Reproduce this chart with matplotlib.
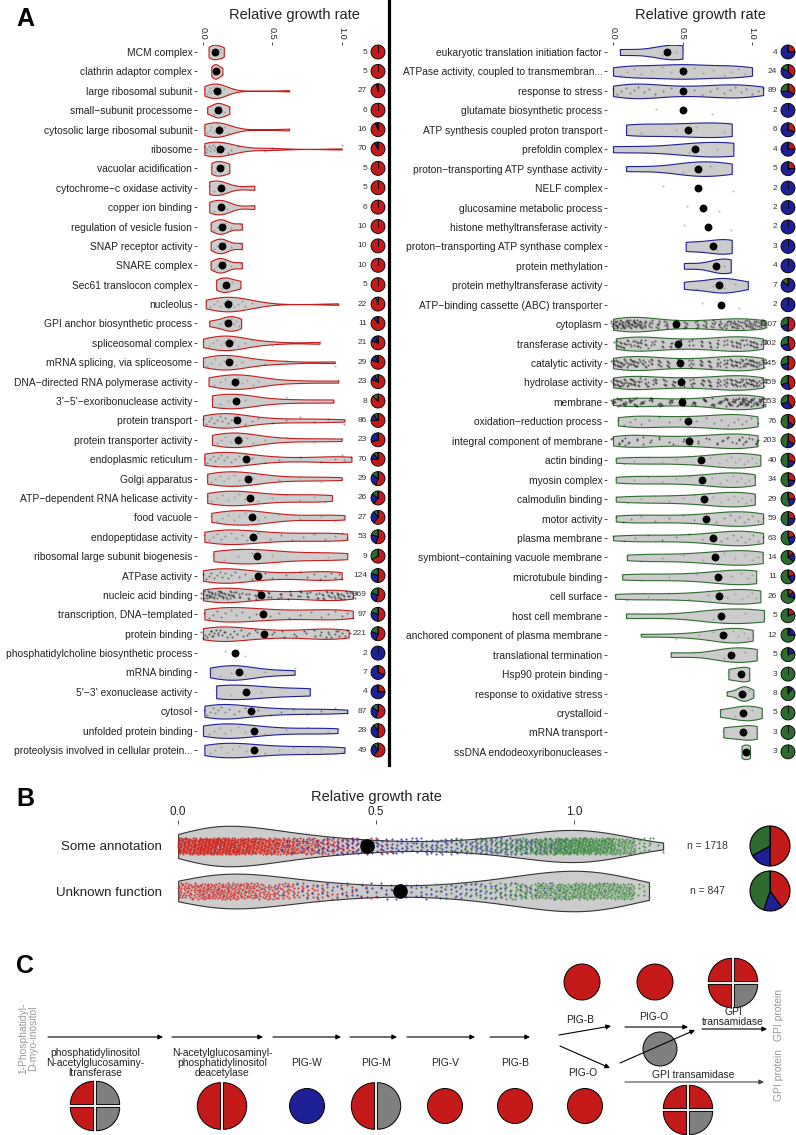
import numpy as np
import matplotlib
matplotlib.use('Agg')
import matplotlib.pyplot as plt
from matplotlib.patches import Wedge, Circle

plt.rcParams['font.family'] = ['Liberation Sans', 'DejaVu Sans']

RED = '#C41A1A'
BLUE = '#1F1F96'
GREEN = '#2E6B2E'
GREY = '#7F7F7F'
VFILL = '#CCCCCC'
TXT = '#222222'
CMAP = {'red': RED, 'blue': BLUE, 'green': GREEN, 'grey': GREY}

# ---------------- Panel A, left column ----------------
L_labels = ["MCM complex", "clathrin adaptor complex", "large ribosomal subunit",
            "small\u2212subunit processome", "cytosolic large ribosomal subunit", "ribosome",
            "vacuolar acidification", "cytochrome\u2212c oxidase activity", "copper ion binding",
            "regulation of vesicle fusion", "SNAP receptor activity", "SNARE complex",
            "Sec61 translocon complex", "nucleolus", "GPI anchor biosynthetic process",
            "spliceosomal complex", "mRNA splicing, via spliceosome",
            "DNA\u2212directed RNA polymerase activity", "3'\u22125'\u2212exoribonuclease activity",
            "protein transport", "protein transporter activity", "endoplasmic reticulum",
            "Golgi apparatus", "ATP\u2212dependent RNA helicase activity", "food vacuole",
            "endopeptidase activity", "ribosomal large subunit biogenesis", "ATPase activity",
            "nucleic acid binding", "transcription, DNA\u2212templated", "protein binding",
            "phosphatidylcholine biosynthetic process", "mRNA binding",
            "5'\u22123' exonuclease activity", "cytosol", "unfolded protein binding",
            "proteolysis involved in cellular protein..."]
L_n = [5, 5, 27, 6, 16, 70, 5, 5, 6, 10, 10, 10, 5, 22, 11, 21, 29, 23, 8, 86, 23, 70,
       29, 26, 27, 53, 9, 124, 369, 97, 221, 2, 7, 4, 87, 28, 49]
L_median = [0.087, 0.094, 0.10, 0.11, 0.115, 0.12, 0.12, 0.13, 0.13, 0.14, 0.14, 0.14,
            0.165, 0.178, 0.18, 0.185, 0.19, 0.233, 0.24, 0.243, 0.25, 0.307, 0.325, 0.339,
            0.355, 0.358, 0.387, 0.394, 0.416, 0.433, 0.44, 0.23, 0.26, 0.31, 0.344, 0.366, 0.37]
L_group = ['red'] * 31 + ['blue'] * 6
L_values = [
    [0.04, 0.07, 0.09, 0.12, 0.15],
    [0.06, 0.08, 0.094, 0.11, 0.14],
    [0.01, 0.03, 0.04, 0.05, 0.06, 0.07, 0.08, 0.09, 0.10, 0.10, 0.11, 0.12, 0.13, 0.15, 0.18, 0.62],
    [0.03, 0.08, 0.10, 0.12, 0.15, 0.19],
    [0.01, 0.03, 0.05, 0.06, 0.08, 0.10, 0.115, 0.13, 0.15, 0.18, 0.62],
    [0.01, 0.02, 0.03, 0.04, 0.05, 0.06, 0.07, 0.08, 0.09, 0.10, 0.11, 0.12, 0.13, 0.15, 0.18, 0.2, 0.25, 0.45, 0.5, 1.0],
    [0.06, 0.09, 0.12, 0.15, 0.19],
    [0.045, 0.08, 0.11, 0.13, 0.37],
    [0.045, 0.08, 0.12, 0.14, 0.17, 0.37],
    [0.055, 0.08, 0.10, 0.12, 0.13, 0.15, 0.16, 0.20, 0.27, 0.28],
    [0.055, 0.08, 0.10, 0.12, 0.13, 0.15, 0.16, 0.20, 0.27, 0.28],
    [0.055, 0.08, 0.10, 0.12, 0.13, 0.15, 0.16, 0.20, 0.27, 0.28],
    [0.095, 0.14, 0.165, 0.21, 0.27],
    [0.02, 0.05, 0.08, 0.10, 0.12, 0.15, 0.17, 0.18, 0.20, 0.22, 0.25, 0.28, 0.30, 0.35, 0.40, 0.975],
    [0.045, 0.08, 0.12, 0.15, 0.17, 0.18, 0.20, 0.22, 0.24, 0.26, 0.275],
    [0.0, 0.04, 0.07, 0.10, 0.13, 0.15, 0.18, 0.19, 0.22, 0.25, 0.30, 0.35, 0.50, 0.84],
    [0.0, 0.03, 0.06, 0.09, 0.12, 0.15, 0.17, 0.19, 0.21, 0.24, 0.28, 0.35, 0.45, 0.60, 0.95],
    [0.04, 0.08, 0.12, 0.16, 0.20, 0.23, 0.25, 0.28, 0.32, 0.36, 0.40, 0.50, 0.70, 0.975],
    [0.065, 0.12, 0.18, 0.23, 0.25, 0.30, 0.60, 0.94],
    [0.0, 0.02, 0.04, 0.06, 0.08, 0.10, 0.12, 0.14, 0.16, 0.18, 0.20, 0.22, 0.24, 0.26, 0.30, 0.35, 0.40, 0.50, 0.60, 0.70, 0.80, 0.90, 1.02],
    [0.065, 0.10, 0.13, 0.16, 0.20, 0.23, 0.25, 0.28, 0.32, 0.36, 0.45, 0.60, 0.80, 1.0],
    [0.01, 0.03, 0.05, 0.07, 0.09, 0.11, 0.13, 0.15, 0.17, 0.20, 0.23, 0.26, 0.30, 0.35, 0.45, 0.55, 0.70, 0.85, 0.95, 1.0, 1.02, 1.07],
    [0.03, 0.06, 0.09, 0.12, 0.15, 0.18, 0.22, 0.26, 0.30, 0.33, 0.36, 0.42, 0.55, 0.70, 0.85, 1.0],
    [0.03, 0.06, 0.10, 0.14, 0.18, 0.22, 0.26, 0.30, 0.34, 0.40, 0.50, 0.60, 0.70, 0.80, 0.88, 0.93],
    [0.06, 0.10, 0.14, 0.18, 0.22, 0.26, 0.30, 0.34, 0.36, 0.40, 0.45, 0.55, 0.70, 0.85, 0.95, 1.02],
    [0.01, 0.04, 0.07, 0.10, 0.13, 0.16, 0.20, 0.24, 0.28, 0.32, 0.36, 0.40, 0.48, 0.56, 0.64, 0.72, 0.80, 0.88, 0.95, 1.0, 1.04],
    [0.075, 0.15, 0.25, 0.35, 0.39, 0.50, 0.70, 0.90, 1.04],
    [0.0, 0.02, 0.04, 0.06, 0.08, 0.10, 0.12, 0.14, 0.16, 0.18, 0.20, 0.23, 0.26, 0.30, 0.35, 0.40, 0.45, 0.50, 0.60, 0.70, 0.75, 0.80, 0.84, 0.88, 0.92, 0.95, 0.98, 1.0],
    [0.0, 0.02, 0.04, 0.06, 0.08, 0.10, 0.12, 0.14, 0.16, 0.18, 0.20, 0.23, 0.27, 0.32, 0.38, 0.42, 0.48, 0.55, 0.62, 0.70, 0.76, 0.82, 0.86, 0.90, 0.93, 0.96, 0.99, 1.02, 1.05, 1.08],
    [0.01, 0.04, 0.07, 0.10, 0.13, 0.16, 0.20, 0.24, 0.28, 0.33, 0.38, 0.43, 0.48, 0.55, 0.62, 0.70, 0.78, 0.85, 0.90, 0.95, 1.0, 1.04, 1.08],
    [0.0, 0.02, 0.04, 0.06, 0.08, 0.10, 0.12, 0.14, 0.17, 0.20, 0.24, 0.28, 0.33, 0.38, 0.44, 0.50, 0.58, 0.66, 0.74, 0.80, 0.85, 0.89, 0.92, 0.95, 0.98, 1.01, 1.05],
    [0.16, 0.30],
    [0.05, 0.12, 0.20, 0.26, 0.30, 0.45, 0.66],
    [0.095, 0.20, 0.42, 0.77],
    [0.01, 0.03, 0.05, 0.07, 0.09, 0.11, 0.13, 0.16, 0.19, 0.22, 0.26, 0.30, 0.34, 0.40, 0.48, 0.56, 0.65, 0.75, 0.85, 0.95, 1.04],
    [0.0, 0.04, 0.08, 0.12, 0.16, 0.20, 0.25, 0.30, 0.37, 0.45, 0.60, 0.75, 0.90, 0.97],
    [0.01, 0.05, 0.09, 0.13, 0.17, 0.21, 0.26, 0.31, 0.37, 0.45, 0.55, 0.65, 0.75, 0.85, 0.95, 1.02],
]
L_frac_red = [1, 1, .96, 1, .94, .92, 1, 1, 1, 1, 1, 1, 1, .95, .9, .8, .8, .8, .87, .75, .7, .75,
              .55, .6, .6, .55, .67, .5, .55, .5, .55, 0, .3, .25, .55, .5, .6]
L_frac_blue = [0, 0, .04, 0, .06, .08, 0, 0, 0, 0, 0, 0, 0, 0, .1, .15, .15, .12, 0, .15, .3, .15,
               .3, .25, .3, .25, 0, .3, .25, .3, .25, 1, .7, .75, .3, .4, .3]
L_frac_green = [0, 0, 0, 0, 0, 0, 0, 0, 0, 0, 0, 0, 0, .05, 0, .05, .05, .08, .13, .1, 0, .1,
                .15, .15, .1, .2, .33, .2, .2, .2, .2, 0, 0, 0, .15, .1, .1]

# ---------------- Panel A, right column ----------------
R_labels = ["eukaryotic translation initiation factor",
            "ATPase activity, coupled to transmembran...", "response to stress",
            "glutamate biosynthetic process", "ATP synthesis coupled proton transport",
            "prefoldin complex", "proton\u2212transporting ATP synthase activity", "NELF complex",
            "glucosamine metabolic process", "histone methyltransferase activity",
            "proton\u2212transporting ATP synthase complex", "protein methylation",
            "protein methyltransferase activity", "ATP\u2212binding cassette (ABC) transporter",
            "cytoplasm", "transferase activity", "catalytic activity", "hydrolase activity",
            "membrane", "oxidation\u2212reduction process", "integral component of membrane",
            "actin binding", "myosin complex", "calmodulin binding", "motor activity",
            "plasma membrane", "symbiont\u2212containing vacuole membrane", "microtubule binding",
            "cell surface", "host cell membrane", "anchored component of plasma membrane",
            "translational termination", "Hsp90 protein binding", "response to oxidative stress",
            "crystalloid", "mRNA transport", "ssDNA endodeoxyribonucleases"]
R_n = [4, 24, 89, 2, 6, 4, 5, 2, 2, 2, 3, 4, 7, 2, 1307, 302, 945, 459, 553, 76, 203, 40, 34,
       29, 59, 63, 14, 11, 26, 5, 12, 5, 3, 8, 5, 3, 3]
R_median = [0.386, 0.50, 0.505, 0.506, 0.54, 0.59, 0.61, 0.614, 0.65, 0.686, 0.722, 0.74,
            0.765, 0.777, 0.453, 0.47, 0.485, 0.49, 0.496, 0.54, 0.545, 0.633, 0.64, 0.657,
            0.67, 0.72, 0.734, 0.758, 0.765, 0.775, 0.794, 0.847, 0.92, 0.93, 0.938, 0.938, 0.955]
R_group = ['blue'] * 14 + ['green'] * 23
R_values = [
    [0.05, 0.35, 0.45, 0.50],
    [0.0, 0.05, 0.10, 0.15, 0.20, 0.28, 0.35, 0.42, 0.48, 0.50, 0.52, 0.58, 0.65, 0.72, 0.80, 0.85, 0.90, 0.95, 1.0],
    [0.0, 0.03, 0.06, 0.09, 0.12, 0.15, 0.18, 0.22, 0.26, 0.30, 0.36, 0.42, 0.50, 0.58, 0.64, 0.70, 0.75, 0.80, 0.84, 0.88, 0.92, 0.96, 1.0, 1.04, 1.08],
    [0.31, 0.715],
    [0.094, 0.20, 0.45, 0.60, 0.80, 0.854],
    [0.0, 0.55, 0.75, 0.866],
    [0.094, 0.50, 0.62, 0.70, 0.854],
    [0.357, 0.866],
    [0.53, 0.765],
    [0.513, 0.85],
    [0.523, 0.75, 0.854],
    [0.51, 0.74, 0.80, 0.847],
    [0.51, 0.60, 0.72, 0.77, 0.80, 0.88, 0.97],
    [0.643, 0.906],
    [0.0, 0.02, 0.04, 0.06, 0.08, 0.10, 0.12, 0.14, 0.16, 0.18, 0.20, 0.23, 0.27, 0.32, 0.38, 0.45, 0.52, 0.60, 0.66, 0.72, 0.77, 0.81, 0.85, 0.88, 0.91, 0.94, 0.97, 1.0, 1.03, 1.06, 1.09],
    [0.02, 0.05, 0.08, 0.11, 0.14, 0.17, 0.20, 0.24, 0.29, 0.35, 0.42, 0.49, 0.56, 0.63, 0.70, 0.76, 0.81, 0.85, 0.89, 0.92, 0.95, 0.98, 1.01, 1.04, 1.08],
    [0.0, 0.03, 0.06, 0.09, 0.12, 0.15, 0.18, 0.22, 0.27, 0.33, 0.40, 0.48, 0.56, 0.63, 0.70, 0.76, 0.81, 0.85, 0.89, 0.92, 0.95, 0.98, 1.01, 1.04, 1.08],
    [0.0, 0.03, 0.06, 0.09, 0.12, 0.15, 0.19, 0.24, 0.30, 0.37, 0.44, 0.50, 0.57, 0.64, 0.70, 0.76, 0.81, 0.85, 0.89, 0.92, 0.95, 0.98, 1.01, 1.04, 1.08],
    [0.0, 0.04, 0.08, 0.12, 0.16, 0.21, 0.27, 0.34, 0.42, 0.50, 0.58, 0.66, 0.72, 0.77, 0.81, 0.84, 0.87, 0.90, 0.92, 0.94, 0.96, 0.98, 1.0, 1.03, 1.06, 1.08],
    [0.035, 0.08, 0.12, 0.16, 0.20, 0.26, 0.33, 0.40, 0.48, 0.54, 0.60, 0.67, 0.73, 0.78, 0.83, 0.87, 0.90, 0.93, 0.96, 0.99, 1.04],
    [0.0, 0.03, 0.06, 0.09, 0.12, 0.16, 0.21, 0.27, 0.34, 0.42, 0.50, 0.56, 0.62, 0.68, 0.74, 0.79, 0.83, 0.87, 0.90, 0.93, 0.96, 0.99, 1.02, 1.04],
    [0.02, 0.08, 0.15, 0.25, 0.35, 0.45, 0.55, 0.63, 0.70, 0.76, 0.81, 0.85, 0.88, 0.91, 0.94, 0.97, 1.0, 1.03, 1.06],
    [0.02, 0.08, 0.15, 0.25, 0.35, 0.45, 0.55, 0.64, 0.71, 0.77, 0.82, 0.86, 0.89, 0.92, 0.95, 0.98, 1.02],
    [0.02, 0.10, 0.20, 0.30, 0.40, 0.50, 0.58, 0.66, 0.72, 0.78, 0.83, 0.87, 0.90, 0.93, 0.96, 0.99, 1.02],
    [0.02, 0.07, 0.13, 0.20, 0.30, 0.40, 0.50, 0.58, 0.67, 0.74, 0.80, 0.84, 0.88, 0.91, 0.94, 0.97, 1.0, 1.04, 1.08],
    [0.0, 0.08, 0.16, 0.25, 0.35, 0.45, 0.55, 0.64, 0.72, 0.78, 0.82, 0.86, 0.89, 0.92, 0.95, 0.98, 1.01, 1.04, 1.08],
    [0.10, 0.20, 0.35, 0.50, 0.65, 0.73, 0.80, 0.88, 0.95, 1.0, 1.04, 1.077],
    [0.066, 0.20, 0.40, 0.60, 0.76, 0.85, 0.92, 0.97, 1.0, 1.03],
    [0.015, 0.10, 0.25, 0.40, 0.55, 0.68, 0.76, 0.82, 0.88, 0.93, 0.97, 1.0, 1.03, 1.06],
    [0.094, 0.72, 0.80, 0.95, 1.086],
    [0.20, 0.45, 0.62, 0.72, 0.79, 0.82, 0.86, 0.90, 0.94, 0.97, 1.005],
    [0.415, 0.80, 0.85, 0.95, 1.034],
    [0.83, 0.92, 0.98],
    [0.818, 0.88, 0.91, 0.93, 0.94, 0.96, 0.98, 1.01],
    [0.77, 0.88, 0.94, 1.0, 1.07],
    [0.794, 0.94, 1.034],
    [0.925, 0.955, 0.985],
]
R_frac_red = [.25, .38, .33, 0, .3, .25, .25, 0, 0, 0, 0, 0, 0, 0, .5, .45, .5, .45, .4, .35,
              .33, .3, .28, .25, .25, .2, .15, .2, .15, .2, .05, 0, 0, 0, 0, 0, 0]
R_frac_blue = [.75, .45, .4, 1, .7, .75, .75, 1, 1, 1, 1, 1, .85, 1, .2, .25, .2, .25, .3, .15,
               .2, .2, .2, .2, .25, .25, .2, .2, .15, 0, .2, .2, 0, .12, 0, 0, 0]
R_frac_green = [0, .17, .27, 0, 0, 0, 0, 0, 0, 0, 0, 0, .15, 0, .3, .3, .3, .3, .3, .5, .47,
                .5, .52, .55, .5, .55, .65, .6, .7, .8, .75, .8, 1, .88, 1, 1, 1]

# ---------------- Panel B (counts per 0.05-wide bin of growth rate) ----------------
B_labels = ["Some annotation", "Unknown function"]
B_n = [1718, 847]
B_median = [0.476, 0.56]
B_bin_width = 0.05
B_some_red = [130, 150, 140, 120, 100, 75, 50, 35, 25, 15, 10]
B_some_blue = [0, 0, 0, 0, 0, 5, 10, 15, 20, 20, 20, 20, 20, 20, 20, 25, 25, 25, 20, 15, 5]
B_some_green = [0] * 12 + [5, 8, 12, 18, 25, 40, 70, 100, 110, 100, 60, 20, 3]
B_unk_red = [45, 60, 60, 50, 40, 30, 20, 15, 10, 6, 4]
B_unk_blue = [0, 0, 0, 0, 0, 3, 5, 7, 8, 9, 9, 9, 10, 10, 12, 12, 12, 10, 8, 3]
B_unk_green = [0] * 12 + [3, 5, 8, 12, 20, 30, 45, 60, 65, 60, 57, 10]
B_frac_red = [0.50, 0.40]
B_frac_blue = [0.17, 0.15]
B_frac_green = [0.33, 0.45]

# ---------------- Panel C (subunit colours of each enzyme) ----------------
C_main_steps = ["phosphatidylinositol\nN-acetylglucosaminy-\nltransferase",
                "N-acetylglucosaminyl-\nphosphatidylinositol\ndeacetylase",
                "PIG-W", "PIG-M", "PIG-V", "PIG-B", ""]
C_main_subunits = [['red', 'grey', 'red', 'grey'], ['red', 'red'], ['blue'], ['red', 'grey'],
                   ['red'], ['red'], ['red']]
C_top_subunits = [['red'], ['red'], ['red', 'red', 'red', 'grey']]
C_low_subunits = [['grey'], ['red', 'red', 'red', 'grey']]

# =====================================================================
W, H = 796, 1135
fig = plt.figure(figsize=(W / 100, H / 100), dpi=100)


def px_axes(x0, y0, w, h):
    return fig.add_axes([x0 / W, 1 - (y0 + h) / H, w / W, h / H])


def draw_violins(ax, values, medians, groups, ns, width):
    idx = [i for i, v in enumerate(values) if len(v) >= 3]
    data = [values[i] for i in idx]
    bw = lambda k: 0.85 * k.num_dp ** (-0.2)
    try:
        parts = ax.violinplot(data, positions=idx, orientation='horizontal', widths=width,
                              showextrema=False, bw_method=bw)
    except TypeError:
        parts = ax.violinplot(data, positions=idx, vert=False, widths=width,
                              showextrema=False, bw_method=bw)
    for body, i in zip(parts['bodies'], idx):
        body.set_facecolor(VFILL)
        body.set_edgecolor(CMAP[groups[i]])
        body.set_linewidth(0.8)
        body.set_alpha(1)
    for i, v in enumerate(values):
        v = np.asarray(v)
        m = len(v)
        copies = int(min(6, max(1, ns[i] / m / 3.0)))
        for c in range(copies):
            j = np.arange(m) + c * m
            jit = (((j * 0.6180339887 + 0.3) % 1.0) - 0.5) * 0.42
            dx = (((j * 0.7548776662 + 0.1) % 1.0) - 0.5) * (0.03 if copies > 1 else 0.0)
            if ns[i] > 50:
                col, a = '#111111', min(0.55, 0.22 + ns[i] / 600.0)
            else:
                col, a = '#666666', 0.4
            ax.scatter(v + dx, i + jit, s=2.4, c=col, alpha=a, linewidths=0, zorder=3)
    ax.scatter(medians, np.arange(len(medians)), s=32, c='black', zorder=5, linewidths=0)


def style_axis_a(ax, labels):
    n = len(labels)
    ax.set_ylim(n - 1 + 0.6, -0.35)
    ax.set_xlim(-0.04, 1.12)
    ax.set_yticks(np.arange(n))
    ax.set_yticklabels(labels, fontsize=7.4, color=TXT)
    ax.xaxis.tick_top()
    ax.set_xticks([0.0, 0.5, 1.0])
    ax.set_xticklabels(['0.0', '0.5', '1.0'], rotation=-90, fontsize=6.6, color=TXT)
    ax.tick_params(axis='both', length=2.5, width=0.6, color='#333333', pad=1.2)
    for s in ax.spines.values():
        s.set_visible(False)
    ax.patch.set_visible(False)


# left panel: rows 52..750 px, right panel rows 52..752 px
axL = px_axes(197.45, 52 - 0.35 * 19.39, 160.9, 19.39 * 36.95)
draw_violins(axL, L_values, L_median, L_group, L_n, 0.75)
style_axis_a(axL, L_labels)

axR = px_axes(607.44, 52 - 0.35 * 19.44, 161.24, 19.44 * 36.95)
draw_violins(axR, R_values, R_median, R_group, R_n, 0.75)
style_axis_a(axR, R_labels)

# ---------------- Panel B ----------------
def expand(counts, w):
    xs = []
    for k, c in enumerate(counts):
        for j in range(c):
            xs.append((k + ((j * 0.7548776662 + 0.5) % 1.0)) * w)
    return np.array(xs)


axB = px_axes(170.1, 823.5, 514.8, 90)
B_sets = [(B_some_red, B_some_blue, B_some_green), (B_unk_red, B_unk_blue, B_unk_green)]
all_vals = [np.concatenate([expand(c, B_bin_width) for c in sets]) for sets in B_sets]
try:
    pb = axB.violinplot(all_vals, positions=[0, 1], orientation='horizontal', widths=0.9,
                        showextrema=False)
except TypeError:
    pb = axB.violinplot(all_vals, positions=[0, 1], vert=False, widths=0.9, showextrema=False)
for body in pb['bodies']:
    body.set_facecolor(VFILL)
    body.set_edgecolor('#333333')
    body.set_linewidth(0.8)
    body.set_alpha(1)
pt_cols = ['#D0211B', '#2B2BA0', '#3C8A3C']
for row, sets in enumerate(B_sets):
    for c, col in zip(sets, pt_cols):
        xv = expand(c, B_bin_width)
        j = np.arange(len(xv))
        yj = (((j * 0.5698402910 + 0.2) % 1.0) - 0.5) * 0.36
        axB.scatter(xv, row + yj, s=2.5, c=col, alpha=0.8, linewidths=0, zorder=3)
axB.scatter(B_median, [0, 1], s=110, c='black', zorder=5, linewidths=0)
axB.set_ylim(1.5, -0.5)
axB.set_xlim(-0.02, 1.28)
axB.set_yticks([0, 1])
axB.set_yticklabels(B_labels, fontsize=9.6, color=TXT)
axB.xaxis.tick_top()
axB.set_xticks([0.0, 0.5, 1.0])
axB.set_xticklabels(['0.0', '0.5', '1.0'], fontsize=8.5, color=TXT)
axB.tick_params(axis='x', length=3, width=0.6, color='#333333', pad=1.2)
axB.tick_params(axis='y', length=0, pad=6)
for s in axB.spines.values():
    s.set_visible(False)
axB.patch.set_visible(False)

# ---------------- overlay in pixel coordinates ----------------
ov = fig.add_axes([0, 0, 1, 1], zorder=10)
ov.set_xlim(0, W)
ov.set_ylim(H, 0)
ov.axis('off')
ov.patch.set_visible(False)


def to_px(ax, x, y):
    d = ax.transData.transform((x, y))
    return ov.transData.inverted().transform(d)


def pie(x, y, r, fr, fb, fg, lw=0.6):
    start = -90.0
    for f, col in ((fr, RED), (fb, BLUE), (fg, GREEN)):
        if f <= 0:
            continue
        ov.add_patch(Wedge((x, y), r, start, start + 360.0 * f, facecolor=col,
                           edgecolor='black', linewidth=lw, zorder=6))
        start += 360.0 * f
    ov.plot([x, x], [y, y - r], color='black', lw=lw, zorder=7)


for ax, ns, frs, fbs, fgs, xc, xpie in ((axL, L_n, L_frac_red, L_frac_blue, L_frac_green, 367, 378),
                                        (axR, R_n, R_frac_red, R_frac_blue, R_frac_green, 777, 788)):
    for i in range(len(ns)):
        _, yy = to_px(ax, 0, i)
        ov.text(xc, yy, str(ns[i]), ha='right', va='center', fontsize=6, color='#333333', zorder=5)
        tot = frs[i] + fbs[i] + fgs[i]
        pie(xpie, yy, 7, frs[i] / tot, fbs[i] / tot, fgs[i] / tot)

for i in range(2):
    _, yy = to_px(axB, 0, i)
    ov.text(707, yy, 'n = %d' % B_n[i], ha='center', va='center', fontsize=7.5, color='#333333')
    pie(770, yy, 20, B_frac_red[i], B_frac_blue[i], B_frac_green[i], lw=0.8)

# titles and panel letters
ov.text(294, 15, 'Relative growth rate', ha='center', va='center', fontsize=10.5, color=TXT)
ov.text(700, 15, 'Relative growth rate', ha='center', va='center', fontsize=10.5, color=TXT)
ov.text(376, 797, 'Relative growth rate', ha='center', va='center', fontsize=10.5, color=TXT)
ov.plot([389, 389], [0, 765], color='black', lw=2.3)
for lab, x, y in (('A', 16, 31), ('B', 16, 811), ('C', 16, 978)):
    ov.text(x, y, lab, fontsize=18, fontweight='bold', ha='left', va='bottom', color='black')

# ---------------- Panel C ----------------
def glyph(x, y, r, cols, g=1.4):
    cols = [CMAP[c] for c in cols]
    if len(cols) == 1:
        ov.add_patch(Circle((x, y), r, facecolor=cols[0], edgecolor='black', linewidth=0.7, zorder=4))
        return
    if len(cols) == 2:
        spec = [((-g, 0), 90, 270), ((g, 0), -90, 90)]
    else:
        spec = [((-g, -g), 180, 270), ((g, -g), 270, 360), ((-g, g), 90, 180), ((g, g), 0, 90)]
    for (off, t1, t2), col in zip(spec, cols):
        ov.add_patch(Wedge((x + off[0], y + off[1]), r - g * 0.5, t1, t2, facecolor=col,
                           edgecolor='black', linewidth=0.7, zorder=4))


def arrow(x0, y0, x1, y1, col='black'):
    ov.annotate('', xy=(x1, y1), xytext=(x0, y0),
                arrowprops=dict(arrowstyle='-|>', lw=0.8, color=col, mutation_scale=7,
                                shrinkA=0, shrinkB=0), zorder=5)


ov.text(28, 1038, '1-Phosphatidyl-\nD-myo-inositol', rotation=90, ha='center', va='center',
        fontsize=7.4, color='#999999', linespacing=1.0)
main_arrows = [(48, 163), (172, 263), (273, 341), (350, 397), (407, 475), (490, 530)]
for x0, x1 in main_arrows:
    arrow(x0, 1037, x1, 1037)
main_x = [95, 222, 307, 376, 445, 515, 585]
for k, (txt, subs) in enumerate(zip(C_main_steps, C_main_subunits)):
    if txt:
        ov.text(main_x[k], 1063, txt, ha='center', va='center', fontsize=7.4, color=TXT,
                linespacing=1.05)
    glyph(main_x[k], 1106, 24 if len(subs) > 1 else 17.5, subs)

# upper branch
glyph(582, 982, 18, C_top_subunits[0])
glyph(655, 982, 18, C_top_subunits[1])
glyph(733, 983, 24, C_top_subunits[2])
ov.text(580, 1020, 'PIG-B', ha='center', va='center', fontsize=7.4, color=TXT)
arrow(559, 1035, 611, 1026)
ov.text(654, 1017, 'PIG-O', ha='center', va='center', fontsize=7.4, color=TXT)
arrow(625, 1027, 688, 1027)
ov.text(733, 1017, 'GPI\ntransamidase', ha='center', va='center', fontsize=7.4, color=TXT,
        linespacing=0.9)
arrow(702, 1029, 767, 1029)
ov.text(779, 1015, 'GPI protein', rotation=90, ha='center', va='center', fontsize=7.4, color='#999999')

# lower branch
arrow(560, 1046, 610, 1068)
ov.text(583, 1073, 'PIG-O', ha='center', va='center', fontsize=7.4, color=TXT)
glyph(660, 1049, 17, C_low_subunits[0])
arrow(620, 1063, 695, 1030)
ov.text(693, 1075, 'GPI transamidase', ha='center', va='center', fontsize=7.4, color=TXT)
arrow(625, 1082, 764, 1082, col='#444444')
ov.text(779, 1075, 'GPI protein', rotation=90, ha='center', va='center', fontsize=7.4, color='#999999')
glyph(688, 1110, 24, C_low_subunits[1])

fig.savefig('out.png', dpi=100)
